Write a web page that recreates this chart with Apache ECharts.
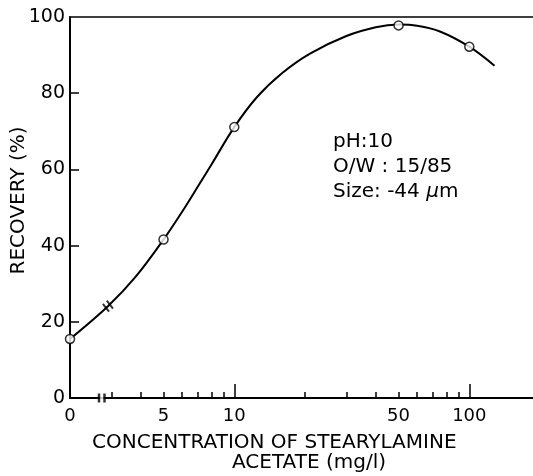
<!DOCTYPE html>
<html>
<head>
<meta charset="utf-8">
<script src="https://cdn.jsdelivr.net/npm/echarts@6/dist/echarts.min.js"></script>
<style>
  html, body { margin: 0; padding: 0; background: #fff; }
  #chart { width: 533px; height: 476px; }
</style>
</head>
<body>
<div id="chart"></div>
<script>
// measured points (concentration mg/l, recovery %)
const concentration = [0, 5, 10, 50, 100]
const recovery = [15.5, 41.6, 71.1, 97.8, 92.2]

// fitted curve
const curveConc = [0, 2.9, 3.8, 5, 6, 7, 8, 10, 12.5, 16, 21, 30, 40, 50, 60, 75, 100, 128]
const curveRec = [15.5, 24.1, 31.8, 41.6, 48.9, 55.5, 61.3, 71.1, 79.0, 85.3, 90.4, 95.0, 97.3, 98.0, 97.7, 96.2, 92.2, 87.2]

// x axis: 0, then a break, then log scale
const xTickLabels = [0, 5, 10, 50, 100]
const xMajorTicks = [10, 100]
const xMinorTicks = [3, 4, 5, 6, 7, 8, 9, 20, 30, 40, 50, 60, 70, 80, 90]
const yTicks = [0, 20, 40, 60, 80, 100]
const axisBreakConc = 2.73
const curveBreakConc = 2.9
const curveBreakRec = 24.1

const notes = ['pH:10', 'O/W : 15/85', 'Size: -44 {mu|μ}m']

const FONT = 'DejaVu Sans'
const ZERO_AT = Math.log10(2) // where "0" sits on the log axis, left of the break
const toAxis = c => (c === 0 ? ZERO_AT : Math.log10(c))
const X_MIN = ZERO_AT
const X_MAX = 2.271

const labelPos = xTickLabels.map(toAxis)

const chart = echarts.init(document.getElementById('chart'), null, { renderer: 'canvas' })

const baseX = {
  type: 'value',
  min: X_MIN,
  max: X_MAX,
  gridIndex: 0,
  splitLine: { show: false }
}

chart.setOption({
  backgroundColor: '#fff',
  animation: false,
  title: [{
    text: 'CONCENTRATION OF STEARYLAMINE',
    left: 92,
    top: 433,
    padding: 0,
    textStyle: { fontFamily: FONT, fontSize: 20, fontWeight: 'normal', color: '#000' }
  }, {
    text: 'ACETATE (mg/l)',
    left: 232,
    top: 453,
    padding: 0,
    textStyle: { fontFamily: FONT, fontSize: 20, fontWeight: 'normal', color: '#000' }
  }],
  grid: {
    left: 70,
    right: 0,
    top: 17,
    bottom: 78,
    outerBoundsMode: 'none'
  },
  xAxis: [Object.assign({}, baseX, {
    position: 'bottom',
    axisLine: { onZero: false, lineStyle: { color: '#000', width: 2 } },
    axisTick: {
      inside: true,
      length: 14,
      customValues: xMajorTicks.map(toAxis),
      lineStyle: { color: '#000', width: 1.5 }
    },
    axisLabel: {
      customValues: labelPos,
      margin: 9,
      color: '#000',
      fontFamily: FONT,
      fontSize: 18,
      formatter: val => {
        const i = labelPos.findIndex(p => Math.abs(p - val) < 1e-6)
        return i >= 0 ? String(xTickLabels[i]) : ''
      }
    }
  }), Object.assign({}, baseX, {
    position: 'bottom',
    axisLine: { show: false, onZero: false },
    axisTick: {
      inside: true,
      length: 6,
      customValues: xMinorTicks.map(toAxis),
      lineStyle: { color: '#000', width: 1.5 }
    },
    axisLabel: { show: false }
  }), Object.assign({}, baseX, {
    position: 'top',
    axisLine: { onZero: false, lineStyle: { color: '#000', width: 1.5 } },
    axisTick: { show: false },
    axisLabel: { show: false }
  })],
  yAxis: {
    type: 'value',
    min: 0,
    max: 100,
    interval: 20,
    name: 'RECOVERY (%)',
    nameLocation: 'middle',
    nameRotate: 90,
    nameGap: 41,
    nameMoveOverlap: false,
    nameTextStyle: { fontFamily: FONT, fontSize: 20, color: '#000', padding: [0, 0, 0, 14] },
    axisLine: { onZero: false, lineStyle: { color: '#000', width: 2 } },
    axisTick: {
      inside: true,
      length: 9,
      customValues: yTicks.slice(1, -1),
      lineStyle: { color: '#000', width: 1.5 }
    },
    axisLabel: {
      margin: 5,
      color: '#000',
      fontFamily: FONT,
      fontSize: 19
    },
    splitLine: { show: false }
  },
  graphic: notes.map((t, i) => ({
    type: 'text',
    left: 333,
    top: 132 + i * 25,
    style: {
      text: t,
      fill: '#000',
      font: '20px "' + FONT + '"',
      rich: {
        mu: { fontFamily: FONT, fontSize: 20, fontStyle: 'italic', fill: '#000' }
      }
    }
  })),
  series: [{
    type: 'line',
    xAxisIndex: 0,
    data: curveConc.map((c, i) => [toAxis(c), curveRec[i]]),
    smooth: 0.35,
    showSymbol: false,
    lineStyle: { color: '#000', width: 2 },
    z: 3
  }, {
    // break symbol on the curve
    type: 'scatter',
    xAxisIndex: 0,
    data: [[toAxis(curveBreakConc), curveBreakRec]],
    symbol: 'path://M0,0L2,0L2,10L0,10Z M5,0L7,0L7,10L5,10Z',
    symbolSize: [7, 10],
    symbolRotate: 38,
    itemStyle: { color: '#000' },
    z: 4
  }, {
    // gap in the x axis line
    type: 'scatter',
    xAxisIndex: 0,
    data: [[toAxis(axisBreakConc), 0]],
    symbol: 'rect',
    symbolSize: [4, 5],
    itemStyle: { color: '#fff' },
    z: 4
  }, {
    // break marks on the x axis
    type: 'scatter',
    xAxisIndex: 0,
    data: [[toAxis(axisBreakConc), 0]],
    symbol: 'path://M0,0L2.5,0L2.5,9L0,9Z M5.5,0L8,0L8,9L5.5,9Z',
    symbolSize: [8, 9],
    itemStyle: { color: '#000' },
    z: 5
  }, {
    type: 'scatter',
    xAxisIndex: 0,
    data: concentration.map((c, i) => [toAxis(c), recovery[i]]),
    symbol: 'circle',
    symbolSize: 9,
    itemStyle: { color: '#fff', borderColor: '#000', borderWidth: 1.5 },
    z: 6
  }]
})
</script>
</body>
</html>
